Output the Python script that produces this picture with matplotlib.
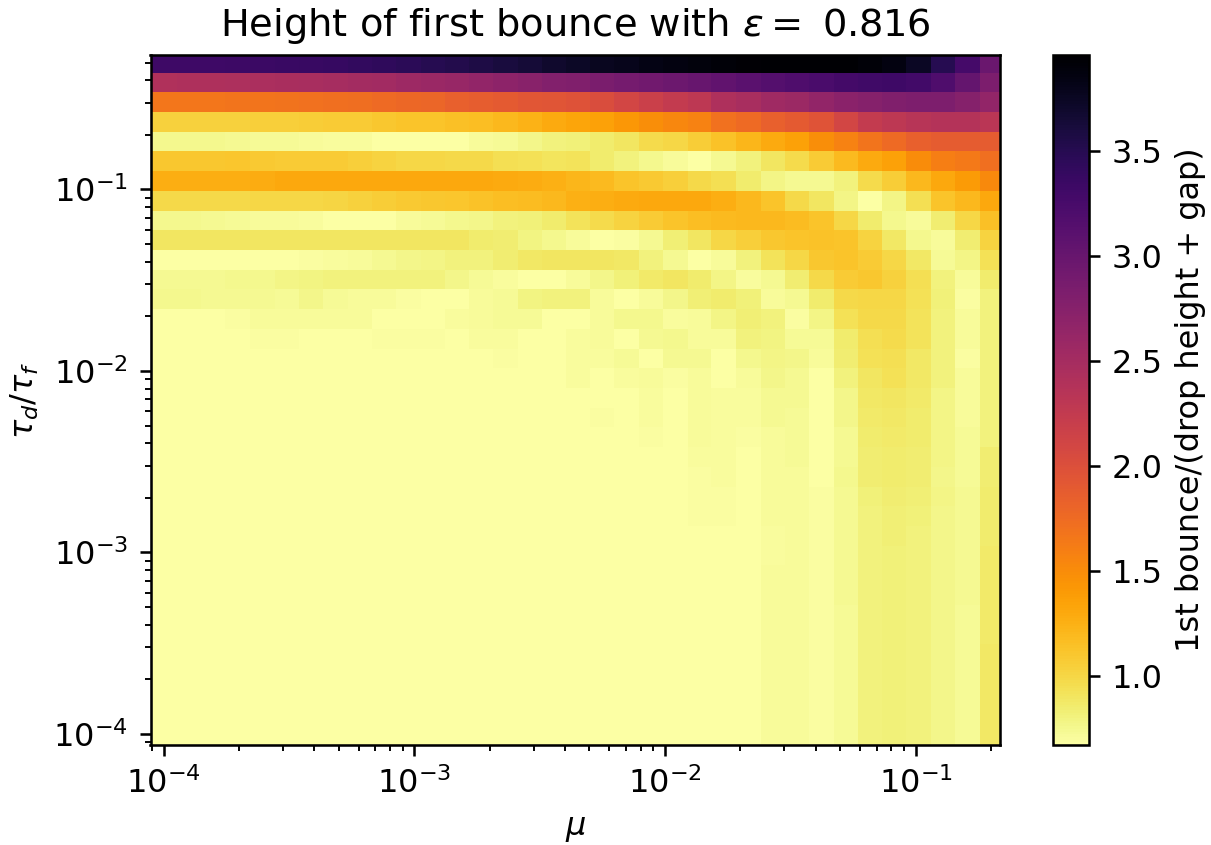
import numpy as np
import matplotlib
matplotlib.use("Agg")
import matplotlib.pyplot as plt

# cell edges, as log10 of mu and of tau_d/tau_f (y goes top to bottom)
log_mu_edges = [-4.052, -3.947, -3.850, -3.753, -3.654, -3.557, -3.460, -3.363, -3.266,
                -3.168, -3.071, -2.974, -2.879, -2.783, -2.684, -2.587, -2.491, -2.395,
                -2.298, -2.201, -2.105, -2.006, -1.909, -1.815, -1.718, -1.618, -1.522,
                -1.426, -1.327, -1.230, -1.133, -1.038, -0.939, -0.843, -0.743, -0.663]
log_tau_edges = [-0.259, -0.356, -0.463, -0.573, -0.683, -0.788, -0.898, -1.008, -1.118,
                 -1.223, -1.333, -1.444, -1.548, -1.658, -1.769, -1.879, -1.982, -2.092,
                 -2.202, -2.309, -2.419, -2.529, -2.639, -2.742, -2.852, -2.963, -3.069,
                 -3.179, -3.289, -3.397, -3.507, -3.614, -3.725, -3.833, -3.942, -4.061]

bounce = [
    [3.33, 3.33, 3.33, 3.34, 3.35, 3.36, 3.38, 3.39, 3.41, 3.44, 3.47, 3.50, 3.53, 3.57, 3.61, 3.65, 3.70, 3.74,
     3.77, 3.80, 3.84, 3.87, 3.89, 3.91, 3.94, 3.96, 3.96, 3.96, 3.95, 3.92, 3.87, 3.75, 3.50, 3.27, 2.98],
    [2.41, 2.42, 2.43, 2.44, 2.45, 2.46, 2.47, 2.49, 2.51, 2.53, 2.56, 2.59, 2.62, 2.65, 2.69, 2.73, 2.78, 2.80,
     2.85, 2.89, 2.93, 2.96, 3.00, 3.05, 3.10, 3.16, 3.20, 3.24, 3.28, 3.31, 3.32, 3.30, 3.20, 3.03, 2.83],
    [1.66, 1.66, 1.67, 1.68, 1.68, 1.69, 1.70, 1.72, 1.73, 1.75, 1.78, 1.80, 1.84, 1.87, 1.90, 1.93, 1.95, 1.97,
     2.02, 2.10, 2.18, 2.25, 2.30, 2.42, 2.47, 2.55, 2.58, 2.65, 2.72, 2.76, 2.80, 2.82, 2.82, 2.76, 2.66],
    [1.03, 1.03, 1.04, 1.04, 1.05, 1.05, 1.06, 1.07, 1.08, 1.10, 1.12, 1.13, 1.15, 1.17, 1.20, 1.24, 1.29, 1.33,
     1.36, 1.42, 1.48, 1.54, 1.58, 1.70, 1.76, 1.84, 1.90, 1.96, 2.10, 2.25, 2.30, 2.35, 2.37, 2.37, 2.32],
    [.75, .75, .75, .74, .73, .73, .72, .70, .70, .68, .68, .68, .68, .71, .73, .76, .80, .82,
     .86, .90, .97, 1.00, 1.06, 1.14, 1.22, 1.29, 1.36, 1.48, 1.58, 1.68, 1.76, 1.84, 1.88, 1.88, 1.88],
    [1.10, 1.10, 1.10, 1.11, 1.09, 1.08, 1.08, 1.07, 1.05, 1.02, 1.00, 1.00, .99, .98, .95, .93, .91, .92,
     .86, .80, .75, .72, .67, .74, .80, .90, .97, 1.07, 1.19, 1.29, 1.36, 1.50, 1.60, 1.64, 1.72],
    [1.27, 1.27, 1.27, 1.27, 1.28, 1.30, 1.30, 1.30, 1.30, 1.30, 1.31, 1.31, 1.31, 1.30, 1.29, 1.28, 1.26, 1.22,
     1.19, 1.13, 1.09, 1.05, .98, .95, .85, .78, .74, .74, .81, .97, 1.06, 1.20, 1.30, 1.40, 1.52],
    [.98, .99, .99, .99, 1.00, 1.00, 1.00, 1.01, 1.04, 1.06, 1.09, 1.10, 1.11, 1.14, 1.16, 1.18, 1.20, 1.25,
     1.27, 1.29, 1.31, 1.31, 1.30, 1.27, 1.20, 1.13, .98, .90, .78, .68, .78, .95, 1.12, 1.20, 1.31],
    [.75, .75, .74, .73, .72, .71, .70, .68, .67, .67, .72, .73, .75, .77, .80, .82, .85, .92,
     .97, 1.02, 1.08, 1.13, 1.16, 1.19, 1.20, 1.20, 1.18, 1.12, 1.00, .86, .75, .72, .84, 1.00, 1.15],
    [.90, .90, .90, .90, .90, .90, .90, .90, .90, .90, .90, .90, .90, .86, .84, .79, .75, .72,
     .67, .69, .74, .83, .90, 1.00, 1.05, 1.10, 1.13, 1.14, 1.12, 1.02, .88, .75, .72, .84, 1.02],
    [.68, .68, .68, .68, .68, .68, .69, .70, .72, .74, .76, .78, .80, .81, .84, .88, .90, .90,
     .90, .88, .80, .74, .67, .72, .80, .92, 1.00, 1.10, 1.13, 1.07, 1.00, .88, .73, .78, .93],
    [.74, .74, .74, .75, .75, .78, .79, .80, .81, .81, .81, .81, .76, .73, .70, .67, .67, .72,
     .77, .82, .87, .90, .85, .78, .70, .74, .84, .98, 1.08, 1.10, 1.03, .95, .81, .72, .86],
    [.75, .75, .74, .74, .74, .73, .76, .73, .72, .72, .69, .68, .68, .71, .73, .79, .80, .80,
     .72, .68, .71, .76, .83, .86, .82, .72, .74, .85, .98, 1.00, 1.00, .93, .82, .69, .80],
    [.68, .68, .68, .69, .71, .71, .71, .71, .71, .68, .68, .68, .70, .71, .73, .73, .68, .68,
     .72, .75, .75, .70, .72, .78, .83, .80, .69, .78, .93, .98, .98, .92, .80, .72, .80],
    [.67, .67, .68, .68, .69, .69, .67, .67, .67, .69, .69, .69, .68, .70, .70, .67, .68, .70,
     .72, .67, .74, .75, .71, .72, .80, .79, .73, .73, .86, .95, .97, .92, .81, .71, .81],
    [.67, .67, .67, .67, .67, .67, .67, .67, .68, .68, .67, .67, .67, .68, .69, .67, .68, .70,
     .70, .73, .67, .74, .74, .67, .75, .78, .76, .71, .84, .93, .95, .88, .81, .69, .81],
    [.67] * 14 + [.68, .68, .68, .70,
     .68, .70, .71, .69, .72, .68, .72, .76, .74, .67, .80, .90, .93, .88, .80, .71, .80],
    [.67] * 16 + [.68, .67,
     .68, .68, .70, .67, .72, .70, .70, .74, .74, .67, .76, .88, .90, .87, .78, .72, .80],
    [.67] * 15 + [.68, .67, .67,
     .69, .68, .70, .67, .72, .70, .70, .74, .73, .67, .76, .87, .88, .86, .78, .72, .81],
    [.67] * 18 + [.68, .67, .69, .67, .71, .70, .69, .72, .73, .67, .74, .85, .87, .85, .78, .73, .81],
    [.67] * 18 + [.67, .68, .68, .67, .70, .70, .67, .72, .73, .67, .74, .84, .85, .84, .78, .73, .84],
    [.67] * 18 + [.67, .67, .68, .67, .69, .70, .67, .71, .72, .67, .75, .84, .85, .84, .77, .73, .84],
    [.67] * 18 + [.67, .67, .67, .67, .69, .69, .67, .71, .72, .69, .74, .82, .84, .83, .78, .74, .85],
    [.67] * 18 + [.67, .67, .67, .67, .69, .69, .67, .71, .72, .69, .74, .81, .83, .82, .76, .74, .85],
    [.67] * 18 + [.67, .67, .67, .67, .67, .68, .67, .70, .72, .69, .74, .81, .83, .81, .76, .74, .85],
    [.67] * 18 + [.67, .67, .67, .67, .67, .68, .67, .70, .72, .69, .74, .81, .82, .81, .76, .74, .87],
    [.67] * 18 + [.67, .67, .67, .67, .67, .68, .68, .71, .72, .69, .74, .81, .82, .81, .76, .74, .87],
    [.67] * 18 + [.67, .67, .67, .67, .67, .68, .68, .71, .71, .69, .74, .81, .82, .81, .76, .74, .87],
    [.67] * 18 + [.67, .67, .67, .67, .67, .68, .67, .71, .71, .69, .73, .81, .82, .81, .76, .73, .87],
    [.67] * 18 + [.67, .67, .67, .67, .67, .68, .67, .71, .71, .69, .73, .80, .82, .81, .76, .73, .87],
    [.67] * 18 + [.67, .67, .67, .67, .67, .68, .67, .71, .71, .69, .73, .80, .82, .81, .76, .73, .88],
    [.67] * 18 + [.67, .67, .67, .67, .67, .68, .67, .71, .71, .69, .73, .80, .82, .81, .76, .73, .88],
    [.67] * 18 + [.67, .67, .67, .67, .67, .68, .67, .71, .71, .69, .73, .80, .82, .81, .76, .73, .88],
    [.67] * 18 + [.67, .67, .67, .67, .67, .68, .67, .71, .71, .69, .73, .80, .82, .81, .76, .73, .88],
    [.67] * 18 + [.67, .67, .67, .67, .67, .68, .67, .71, .71, .69, .73, .80, .82, .81, .76, .73, .88],
]

epsilon = 0.816

mu_edges = 10.0 ** np.array(log_mu_edges)
tau_edges = 10.0 ** np.array(log_tau_edges)

W, H = 1211, 845
DPI = 230
fig = plt.figure(figsize=(W / DPI, H / DPI), dpi=DPI)
ax = fig.add_axes([150.5 / W, 1 - 745 / H, 849.5 / W, 690 / H])
cax = fig.add_axes([1053 / W, 1 - 745 / H, 36 / W, 690 / H])

mesh = ax.pcolormesh(mu_edges, tau_edges, np.array(bounce), cmap="inferno_r", vmin=0.67, vmax=3.96)
ax.set_xscale("log")
ax.set_yscale("log")
ax.set_xlim(mu_edges[0], mu_edges[-1])
ax.set_ylim(tau_edges[-1], tau_edges[0])
ax.set_xlabel(r"$\mu$")
ax.set_ylabel(r"$\tau_d/\tau_f$")
ax.set_title(r"Height of first bounce with $\epsilon =$ " + str(epsilon))

cbar = fig.colorbar(mesh, cax=cax)
cbar.set_label("1st bounce/(drop height + gap)")

fig.savefig("out.png", dpi=DPI)
